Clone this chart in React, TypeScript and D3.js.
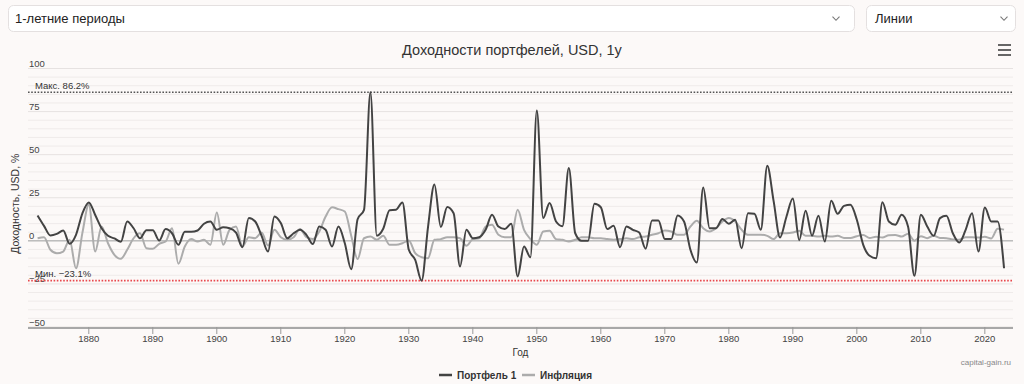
import React from 'react';
import * as d3 from 'd3';

// yearly returns, %
const startYear = 1872;
const portfolio = [
  14.7, 8.7, 3.1, 4, 6, -1.7, 3.5, 16,
  22.3, 15, 7.3, 2.9, 1.4, -0.6, 11.2, 7.3, 1.5, 6.2,
  6.2, 0.2, 6.8, 4.4, -2.3, 5.2, 5.2, 6, 9.9, 11.2,
  6.4, 7.9, 7.3, 4.8, -3.7, 13.3, 11.2, 2.9, -6.2, 14.1,
  10.3, 1.5, 4.4, 6.4, 3.5, -1.9, 8.3, 6.4, -3.3, 8.3,
  -1.4, -16.5, 12.5, 18, 86.2, 3, 7, 17.8, 18, 22.3,
  -5.2, -11, -23.1, 8, 32.7, 8, 19.7, 16, -14.9, 6.4,
  1.5, 2.1, 6.4, 15.1, 8.3, 6.8, 9.9, -20.7, -3.3, -9.5,
  75.6, 13.2, 21.9, 11.2, 8.5, 42.2, 4.4, 0, 0, 21.5,
  19.5, 6.8, 8.7, -3.7, 8.3, 6.4, 4.8, -4.6, 11.8, 11.8,
  1, 1, 14.7, 11.2, -5.2, -12.6, 31, 7.3, 7.3, 12.6,
  9.9, 12.2, -4.3, 16, 15.7, 6.4, 43.5, 23, 2, 14,
  24.5, 0.4, 17.5, 3, 14.5, -0.4, 23.2, 15.7, 20.3, 20.9,
  12.2, -2.3, -8.7, -10.1, 22.4, 11.2, 9.3, 15.1, 8.3, -20.3,
  15.1, 8.3, 2.9, 13.2, 14.5, 4.4, -1, 6.4, 16, -6.2,
  19.3, 11.2, 11.2, -15.9,
];
const inflation = [
  1.5, 2.1, -5.2, -7.2, -6.2, 0.6, -15.9, 4.6,
  20.9, -6.2, 8.3, -1.4, -8.1, -10.4, -5.2, 1.5, 4.4, -4.3,
  -4.6, -1.7, -0.4, 7.3, -13.3, -3.3, 1, -0.4, 0.6, -2.3,
  16.4, -2.3, 6.4, 8.3, -3.3, 2.1, 1.5, 4.8, -2.7, 6.4,
  2.1, 0.6, 2.1, 6.8, 2.1, 1, 5.4, 14.1, 19.5, 18.4,
  17, 3, -10.6, 1.5, 2.5, 0.6, 2.9, -2.3, -2.3, -1.4,
  0.2, -7.2, -9.5, -10.1, 0.6, 1, 2.1, 2.1, 1.5, -2.9,
  1, 1.5, 8.3, 9.3, 3.5, 2.1, 2.1, 18, 6.4, 1,
  -2.3, 5.4, 5.8, 1, 0.6, -0.4, 0.6, 2.1, 2.1, 1.5,
  1.5, 1, 0.6, 1, 1.5, 1, 2.1, 2.5, 3.5, 4.4,
  6, 5.4, 3.5, 3.5, 8.3, 11.6, 7.3, 5.4, 7.3, 11.2,
  13.2, 11.2, 6.4, 3.5, 3.5, 3.5, 2.9, 1, 4.4, 4.4,
  4.8, 5.8, 2.9, 2.9, 2.5, 2.9, 2.5, 2.9, 1.7, 1.6,
  2.7, 3.4, 1.6, 2.4, 1.9, 3.3, 3.4, 2.5, 4.1, 0.1,
  2.7, 1.5, 3.0, 1.7, 1.5, 0.8, 0.7, 2.1, 2.1, 1.9,
  2.3, 1.4, 7.0, 6.5,
];
const years = d3.range(startYear, startYear + portfolio.length);
const yTicks = [-50, -25, 0, 25, 50, 75, 100];
const yMinor = d3.range(-50, 101, 5);
const xTicks = d3.range(1880, 2021, 10);
const seriesNames = ['Портфель 1', 'Инфляция'];
const seriesColors = ['#434343', '#acacac'];

const W = 1024;
const H = 384;
const plot = { left: 28, right: 1013, top: 68.5, bottom: 327 };
const font = '"Liberation Sans", Arial, Helvetica, sans-serif';
const minus = (s: string) => s.replace('-', '\u2212');

export default function App() {
  const x = d3.scaleLinear().domain([1870.5, 2024.4]).range([plot.left, plot.right]);
  const y = d3.scaleLinear().domain([-50, 100]).range([plot.bottom, plot.top]);
  const line = d3
    .line<number>()
    .x((_, i) => x(years[i]))
    .y((d) => y(d))
    .curve(d3.curveMonotoneX);

  const maxV = d3.max(portfolio) as number;
  const minV = d3.min(portfolio) as number;

  const chevron = (cx: number, cy: number) => (
    <path d={`M${cx - 3.5},${cy - 1.8} L${cx},${cy + 1.8} L${cx + 3.5},${cy - 1.8}`} fill="none" stroke="#777" strokeWidth={1.1} />
  );

  return (
    <div style={{ position: 'fixed', left: 0, top: 0, width: W, height: H, background: '#fcf9f8' }}>
      <svg width={W} height={H} style={{ display: 'block', fontFamily: font }}>
        <rect width={W} height={H} fill="#fcf9f8" />

        {/* selectors */}
        <rect x={8.5} y={5.5} width={846} height={26} rx={5} fill="#fff" stroke="#e4e0e0" />
        <text x={15} y={23} fontSize={13} fill="#222">1-летние периоды</text>
        {chevron(836, 18.5)}
        <rect x={866.5} y={5.5} width={149} height={26} rx={5} fill="#fff" stroke="#e4e0e0" />
        <text x={875} y={23} fontSize={13} fill="#222">Линии</text>
        {chevron(1004, 18.5)}

        {/* title + menu */}
        <text x={W / 2} y={55} textAnchor="middle" fontSize={14.5} fill="#333">
          Доходности портфелей, USD, 1y
        </text>
        {[45, 50, 55].map((yy) => (
          <line key={yy} x1={998} x2={1011} y1={yy} y2={yy} stroke="#666" strokeWidth={2} />
        ))}

        {/* grid */}
        {yMinor.map((t) => (
          <line key={t} x1={plot.left} x2={plot.right} y1={y(t)} y2={y(t)} stroke={t % 25 === 0 ? '#e6e2e1' : '#efebea'} strokeWidth={1} />
        ))}
        <line x1={plot.left} x2={plot.right} y1={y(0)} y2={y(0)} stroke="#bdbdbd" strokeWidth={1.5} />

        {/* y labels */}
        {yTicks.map((t) => (
          <text key={t} x={plot.left + 1} y={y(t) - 1.5} fontSize={9.5} fill="#444">
            {minus(String(t))}
          </text>
        ))}
        <text
          transform={`translate(19,${(plot.top + plot.bottom) / 2 + 6}) rotate(-90)`}
          textAnchor="middle"
          fontSize={10.5}
          fill="#333"
        >
          Доходность, USD, %
        </text>

        {/* max / min lines */}
        <line x1={plot.left} x2={plot.right} y1={y(maxV)} y2={y(maxV)} stroke="#555" strokeWidth={1.6} strokeDasharray="1.6,1.6" />
        <text x={plot.left + 7} y={y(maxV) - 3} fontSize={9.5} fill="#333">
          {`Макс. ${maxV.toFixed(1)}%`}
        </text>
        <line x1={plot.left} x2={plot.right} y1={y(minV)} y2={y(minV)} stroke="#e8484d" strokeWidth={1.6} strokeDasharray="1.6,1.6" />
        <text x={plot.left + 7} y={y(minV) - 3.5} fontSize={9.5} fill="#333">
          {minus(`Мин. ${minV.toFixed(1)}%`)}
        </text>

        {/* series */}
        <path d={line(inflation) || ''} fill="none" stroke={seriesColors[1]} strokeWidth={2} />
        <path d={line(portfolio) || ''} fill="none" stroke={seriesColors[0]} strokeWidth={2} />

        {/* x axis */}
        <line x1={plot.left} x2={plot.right} y1={plot.bottom + 1} y2={plot.bottom + 1} stroke="#a8a8a8" strokeWidth={2} />
        {xTicks.map((t) => (
          <g key={t}>
            <line x1={x(t)} x2={x(t)} y1={plot.bottom} y2={plot.bottom + 7} stroke="#999" />
            <text x={x(t)} y={342} textAnchor="middle" fontSize={9.5} fill="#444">
              {t}
            </text>
          </g>
        ))}
        <text x={(plot.left + plot.right) / 2} y={356} textAnchor="middle" fontSize={10} fill="#333">
          Год
        </text>
        <text x={1011} y={365} textAnchor="end" fontSize={8} fill="#888">
          capital-gain.ru
        </text>

        {/* legend */}
        {seriesNames.map((name, i) => {
          const lx = i === 0 ? 439 : 522;
          return (
            <g key={name}>
              <line x1={lx} x2={lx + 13} y1={375} y2={375} stroke={seriesColors[i]} strokeWidth={2.5} />
              <text x={lx + 18} y={378.5} fontSize={10} fontWeight="bold" fill="#333">
                {name}
              </text>
            </g>
          );
        })}
      </svg>
    </div>
  );
}
